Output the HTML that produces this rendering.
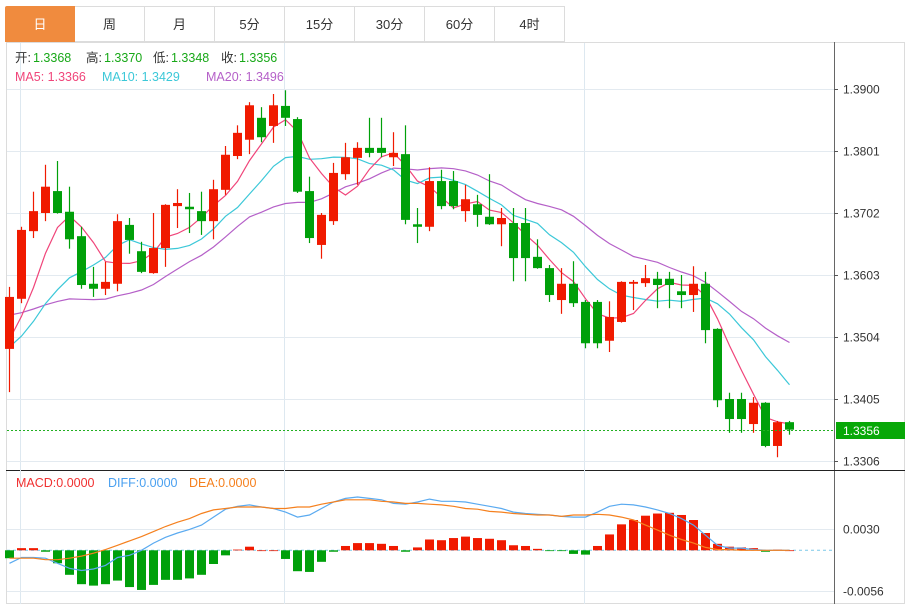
<!DOCTYPE html>
<html><head><meta charset="utf-8">
<style>
body{margin:0;background:#fff;font-family:"Liberation Sans","Noto Sans CJK SC",sans-serif;}
#wrap{position:relative;width:911px;height:605px;overflow:hidden;}
.tab{position:absolute;top:6px;height:36px;width:70px;border:1px solid #dcdcdc;border-left:none;box-sizing:border-box;text-align:center;line-height:35px;font-size:13px;color:#333;background:#fff;}
.tab.first{border-left:1px solid #dcdcdc;}
.tab.active{background:#f08b3e;color:#fff;border-color:#f08b3e;border-radius:2px 0 0 0;}
</style></head>
<body><div id="wrap">
<div class="tab first active" style="left:5px">日</div>
<div class="tab" style="left:75px">周</div>
<div class="tab" style="left:145px">月</div>
<div class="tab" style="left:215px">5分</div>
<div class="tab" style="left:285px">15分</div>
<div class="tab" style="left:355px">30分</div>
<div class="tab" style="left:425px">60分</div>
<div class="tab" style="left:495px">4时</div>
<svg id="svg" width="911" height="605" style="position:absolute;left:0;top:0;pointer-events:none" font-family="Liberation Sans, Noto Sans CJK SC, sans-serif"></svg>
</div>
<script>
const opens=[1.3485,1.3565,1.3673,1.3702,1.3737,1.3704,1.3665,1.3589,1.3581,1.3589,1.3683,1.3641,1.3606,1.3646,1.3713,1.3712,1.3705,1.3689,1.3739,1.3793,1.3819,1.3854,1.3841,1.3873,1.3852,1.3737,1.3651,1.3689,1.3764,1.3790,1.3806,1.3806,1.3791,1.3796,1.3684,1.3680,1.3753,1.3753,1.3705,1.3716,1.3696,1.3684,1.3686,1.3686,1.3632,1.3614,1.3563,1.3589,1.3560,1.3560,1.3498,1.3528,1.3589,1.3590,1.3597,1.3597,1.3577,1.3571,1.3589,1.3517,1.3405,1.3405,1.3365,1.3399,1.3330,1.3368];
const highs=[1.3584,1.3680,1.3736,1.3779,1.3785,1.3744,1.3680,1.3616,1.3624,1.3700,1.3694,1.3656,1.3702,1.3716,1.3740,1.3734,1.3736,1.3755,1.3809,1.3842,1.3879,1.3871,1.3892,1.3898,1.3855,1.3760,1.3702,1.3782,1.3814,1.3815,1.3854,1.3854,1.3831,1.3842,1.3710,1.3775,1.3771,1.3769,1.3747,1.3731,1.3764,1.3710,1.3710,1.3710,1.3660,1.3619,1.3614,1.3625,1.3563,1.3563,1.3561,1.3593,1.3595,1.3619,1.3608,1.3608,1.3603,1.3617,1.3608,1.3518,1.3415,1.3415,1.3408,1.3400,1.3370,1.3370];
const lows=[1.3416,1.3558,1.3662,1.3689,1.3701,1.3645,1.3581,1.3568,1.3571,1.3577,1.3637,1.3606,1.3605,1.3616,1.3678,1.3670,1.3667,1.3660,1.3731,1.3788,1.3796,1.3815,1.3814,1.3841,1.3734,1.3654,1.3629,1.3683,1.3755,1.3747,1.3791,1.3791,1.3777,1.3684,1.3654,1.3673,1.3708,1.3708,1.3688,1.3680,1.3683,1.3649,1.3593,1.3593,1.3613,1.3560,1.3541,1.3552,1.3486,1.3486,1.3480,1.3527,1.3547,1.3584,1.3550,1.3550,1.3550,1.3544,1.3494,1.3392,1.3351,1.3351,1.3351,1.3328,1.3312,1.3348];
const closes=[1.3568,1.3675,1.3705,1.3744,1.3702,1.3660,1.3587,1.3581,1.3592,1.3689,1.3659,1.3608,1.3646,1.3715,1.3718,1.3708,1.3689,1.3740,1.3795,1.3830,1.3874,1.3823,1.3874,1.3854,1.3736,1.3662,1.3699,1.3766,1.3791,1.3806,1.3798,1.3798,1.3798,1.3691,1.3680,1.3753,1.3713,1.3713,1.3724,1.3699,1.3684,1.3694,1.3630,1.3630,1.3614,1.3571,1.3589,1.3558,1.3494,1.3494,1.3536,1.3592,1.3592,1.3598,1.3587,1.3587,1.3571,1.3589,1.3515,1.3403,1.3373,1.3373,1.3399,1.3330,1.3368,1.3356];
const prevCloses=[1.3600,1.3585,1.3610,1.3595,1.3580,1.3600,1.3590,1.3575,1.3585,1.3580,1.3500,1.3470,1.3460,1.3480,1.3470,1.3490,1.3475,1.3470,1.3497];
const macdBars=[-0.0011,0.0003,0.0003,-0.0002,-0.0018,-0.0034,-0.0047,-0.0049,-0.0047,-0.0042,-0.0051,-0.0055,-0.0048,-0.0041,-0.0041,-0.0039,-0.0034,-0.0019,-0.0007,0.0001,0.0005,0.0000,0.0000,-0.0012,-0.0029,-0.0030,-0.0016,-0.0002,0.0006,0.0010,0.0010,0.0009,0.0006,-0.0002,0.0004,0.0015,0.0014,0.0017,0.0019,0.0017,0.0016,0.0014,0.0007,0.0006,0.0002,-0.0001,-0.0001,-0.0005,-0.0006,0.0006,0.0022,0.0036,0.0042,0.0048,0.0051,0.0052,0.0049,0.0042,0.0024,0.0009,0.0005,0.0004,0.0003,-0.0002,0.0001,0.0000];
const diffLine=[-0.0018,-0.0010,-0.0010,-0.0011,-0.0018,-0.0025,-0.0028,-0.0026,-0.0021,-0.0010,-0.0007,0.0000,0.0010,0.0018,0.0024,0.0029,0.0035,0.0046,0.0057,0.0061,0.0063,0.0060,0.0058,0.0053,0.0046,0.0049,0.0058,0.0067,0.0072,0.0074,0.0072,0.0070,0.0065,0.0064,0.0067,0.0071,0.0068,0.0068,0.0067,0.0064,0.0061,0.0058,0.0053,0.0051,0.0050,0.0049,0.0047,0.0046,0.0046,0.0053,0.0061,0.0064,0.0063,0.0060,0.0056,0.0051,0.0044,0.0035,0.0021,0.0007,0.0003,0.0003,0.0001,0.0000,0.0000,0.0000];
const deaLine=[-0.0011,-0.0011,-0.0011,-0.0013,-0.0013,-0.0011,-0.0008,-0.0004,0.0001,0.0007,0.0013,0.0019,0.0026,0.0033,0.0039,0.0044,0.0051,0.0056,0.0058,0.0060,0.0060,0.0060,0.0058,0.0058,0.0060,0.0060,0.0064,0.0067,0.0070,0.0070,0.0070,0.0068,0.0067,0.0065,0.0065,0.0064,0.0063,0.0061,0.0058,0.0057,0.0054,0.0053,0.0051,0.0050,0.0049,0.0049,0.0047,0.0049,0.0049,0.0050,0.0049,0.0046,0.0042,0.0035,0.0028,0.0021,0.0015,0.0010,0.0004,0.0001,0.0001,0.0000,0.0000,0.0000,0.0000,0.0000];
const priceTicks=[1.3900,1.3801,1.3702,1.3603,1.3504,1.3405,1.3306];
const macdTicks=[0.0030,-0.0056];
const lastPrice=1.3356;

const NS='http://www.w3.org/2000/svg';
const svg=document.getElementById('svg');
function el(tag,attrs,parent){const e=document.createElementNS(NS,tag);for(const k in attrs)e.setAttribute(k,attrs[k]);(parent||svg).appendChild(e);return e;}
const xOf=i=>9.5+12*i;
const yP=p=>89+(1.39-p)*6262.6;
const yM=v=>550.3-v*7209;

let f=el('rect',{x:6.5,y:42.5,width:898,height:561,fill:'none',stroke:'#dcdcdc'});


let sep=el('line',{x1:834.5,y1:42,x2:834.5,y2:604,stroke:'#666','stroke-width':1});


let hsep=el('line',{x1:6,y1:470.5,x2:905,y2:470.5,stroke:'#222','stroke-width':1});


[20.5,284.5,584.5].forEach(x=>{
  const g=el('line',{x1:x,y1:43,x2:x,y2:604,stroke:'#dde8f0'});
  
  
});
priceTicks.forEach(p=>{
  const y=Math.round(yP(p))+0.5;
  const g=el('line',{x1:7,y1:y,x2:834,y2:y,stroke:'#e3eaf0'});
  
  
  const t=el('text',{x:843,y:y+4,'font-size':12,fill:'#333'});t.textContent=p.toFixed(4);
  
  
  const tk=el('line',{x1:834,y1:y,x2:838,y2:y,stroke:'#555'});
  
  
});
macdTicks.forEach(v=>{
  const y=Math.round(yM(v))+0.5;
  const g=el('line',{x1:7,y1:y,x2:834,y2:y,stroke:'#e3eaf0'});
  
  
  const t=el('text',{x:843,y:y+4,'font-size':12,fill:'#333'});t.textContent=v.toFixed(4);
  
  
});
const all=prevCloses.concat(closes);
function ma(n){return closes.map((c,i)=>{const j=i+prevCloses.length;let s=0;for(let k=j-n+1;k<=j;k++)s+=all[k];return s/n;});}
[[20,'#b560c8','ma20-line'],[10,'#3cc8d8','ma10-line'],[5,'#f0457a','ma5-line']].forEach(([n,c,name])=>{
  const m=ma(n);
  const pl=el('polyline',{points:m.map((v,i)=>xOf(i)+','+yP(v).toFixed(1)).join(' '),fill:'none',stroke:c,'stroke-width':1.2});
  
  
});
closes.forEach((c,i)=>{
  const o=opens[i],up=c>=o,col=up?'#f01a00':'#00a00a',x=xOf(i);
  const g=el('g',{});
  
  
  el('line',{x1:x,y1:yP(highs[i]),x2:x,y2:yP(lows[i]),stroke:col,'stroke-width':1.2},g);
  const t=yP(Math.max(o,c)),b=yP(Math.min(o,c));
  el('rect',{x:x-4.5,y:t,width:9,height:Math.max(1.5,b-t),fill:col},g);
});
const ly=Math.round(yP(lastPrice))+0.5;
let lp=el('line',{x1:7,y1:ly,x2:834,y2:ly,stroke:'#22b022','stroke-dasharray':'2,2'});


let lb=el('rect',{x:836,y:ly-8.5,width:69,height:17,fill:'#08a808'});


let lt=el('text',{x:843,y:ly+4.5,'font-size':12,fill:'#fff'});lt.textContent=lastPrice.toFixed(4);


const zy=yM(0);
let zl=el('line',{x1:7,y1:zy,x2:834,y2:zy,stroke:'#7cc8e8','stroke-dasharray':'3,3'});


macdBars.forEach((v,i)=>{
  const y=yM(v),x=xOf(i);
  const r=el('rect',{x:x-4.5,y:Math.min(y,zy),width:9,height:Math.max(0.8,Math.abs(y-zy)),fill:v>=0?'#f01a00':'#00a00a'});
  
  
});
let dl=el('polyline',{points:diffLine.map((v,i)=>xOf(i)+','+yM(v).toFixed(1)).join(' '),fill:'none',stroke:'#5aaaf0','stroke-width':1.2});


let de=el('polyline',{points:deaLine.map((v,i)=>xOf(i)+','+yM(v).toFixed(1)).join(' '),fill:'none',stroke:'#f5801e','stroke-width':1.2});


function txt(x,y,s,c,name){const t=el('text',{x:x,y:y,'font-size':12.5,fill:c});t.textContent=s;return t;}
txt(15,62,'开:','#333','open-key');txt(33,62,'1.3368','#18a818','open-value');
txt(86,62,'高:','#333','high-key');txt(104,62,'1.3370','#18a818','high-value');
txt(153,62,'低:','#333','low-key');txt(171,62,'1.3348','#18a818','low-value');
txt(221,62,'收:','#333','close-key');txt(239,62,'1.3356','#18a818','close-value');
txt(15,81,'MA5: 1.3366','#f0457a','ma5-legend');
txt(102,81,'MA10: 1.3429','#3cc8d8','ma10-legend');
txt(206,81,'MA20: 1.3496','#b560c8','ma20-legend');
txt(16,487,'MACD:0.0000','#f03030','macd-legend');
txt(108,487,'DIFF:0.0000','#4aa0f0','diff-legend');
txt(189,487,'DEA:0.0000','#f5801e','dea-legend');
</script>
</body></html>
